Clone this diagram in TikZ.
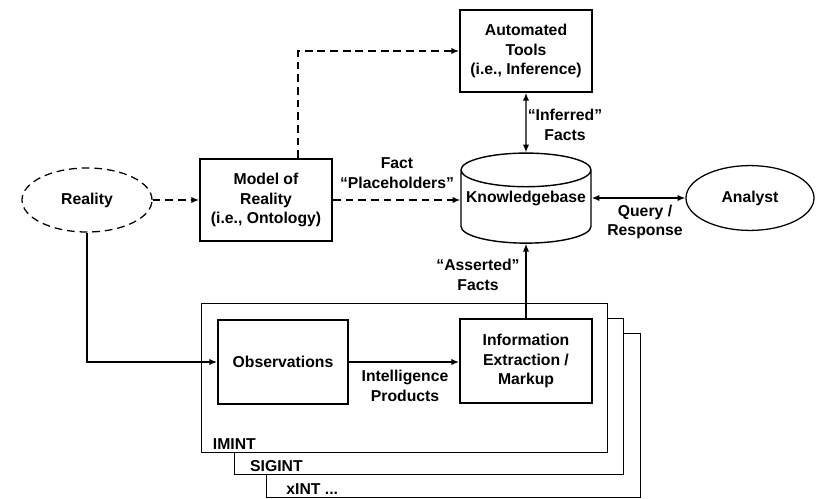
\documentclass[tikz,border=0pt]{standalone}
\usepackage{fontspec}
\setmainfont{Liberation Sans}
\usetikzlibrary{shapes, arrows.meta, positioning}

\begin{document}
\begin{tikzpicture}[x=0.025cm, y=-0.025cm, font=\fontsize{11.2}{14}\selectfont\bfseries]

\tikzstyle{block} = [draw, line width=1.3pt, fill=white, align=center, minimum width=3.3cm, minimum height=2.05cm]
\tikzstyle{actor} = [ellipse, draw, line width=0.9pt, inner sep=0pt, minimum width=3.2cm, minimum height=1.62cm]
\tikzstyle{store} = [cylinder, shape border rotate=90, aspect=0.26, draw, line width=1pt, minimum width=3.25cm, minimum height=2.25cm]
\tikzstyle{layer} = [draw, line width=0.7pt, fill=white, inner sep=0pt]
\tikzstyle{tag} = [align=center, inner sep=1pt]
\tikzstyle{arrow} = [line width=1pt, -{Latex[length=5.5pt, width=4.5pt]}]
\tikzstyle{twoway} = [line width=1pt, {Latex[length=5.5pt, width=4.5pt]}-{Latex[length=5.5pt, width=4.5pt]}]
\tikzstyle{dasharrow} = [arrow, dash pattern=on 5.5pt off 3.5pt]

\useasboundingbox (0,0) rectangle (816,499);

% Source layers
\node (xint) [layer, minimum width=9.325cm, minimum height=4.075cm] at (453.5,415.5) {};
\node (sigint) [layer, minimum width=9.7cm, minimum height=3.875cm] at (429,396.5) {};
\node (imint) [layer, minimum width=10.125cm, minimum height=3.7cm] at (404.5,378) {};

\node (xintlabel) [anchor=south west, inner sep=2pt, xshift=12pt] at (xint.south west) {xINT ...};
\node (sigintlabel) [anchor=south west, inner sep=2pt, xshift=9pt] at (sigint.south west) {SIGINT};
\node (imintlabel) [anchor=south west, inner sep=2pt, xshift=6pt] at (imint.south west) {IMINT};

% Make nodes
\node (reality) [actor, dash pattern=on 5.5pt off 3.5pt, minimum width=3.25cm, minimum height=1.6cm] at (87,200) {Reality};
\node (model) [block] at (266,200) {Model of\\Reality\\(i.e., Ontology)};
\node (tools) [block] at (526,51) {Automated\\Tools\\(i.e., Inference)};
\node (kb) [store, label={[yshift=0.3cm]center:Knowledgebase}] at (526,210) {\phantom{Knowledgebase}};
\node (analyst) [actor] at (750,198) {Analyst};
\node (obs) [block, minimum width=3.25cm, minimum height=2.08cm] at (283,362) {Observations};
\node (info) [block, minimum height=2.1cm] at (526,361) {Information\\Extraction /\\Markup};

% Labels
\node (placeholders) [tag] at (397,173) {Fact\\“Placeholders”};
\node (inferred) [tag] at (565,125) {“Inferred”\\Facts};
\node (query) [tag] at (645,222) {Query /\\Response};
\node (products) [tag] at (405,386) {Intelligence\\Products};
\node (asserted) [tag] at (478,275) {“Asserted”\\Facts};

% Connect nodes
\draw[dasharrow] (reality) -- (model);
\draw[dasharrow] ([xshift=0.8cm]model.north) |- (tools.west);
\draw[dasharrow] (model.east) -- (model.east -| kb.west);
\draw[twoway] (tools.south) -- (kb.north);
\draw[twoway] (analyst.west -| kb.east) -- (analyst.west);
\draw[arrow] (reality.south) |- (obs.west);
\draw[arrow] (obs.east) -- (obs.east -| info.west);
\draw[arrow] (info.north) -- (kb.south);

\end{tikzpicture}
\end{document}
